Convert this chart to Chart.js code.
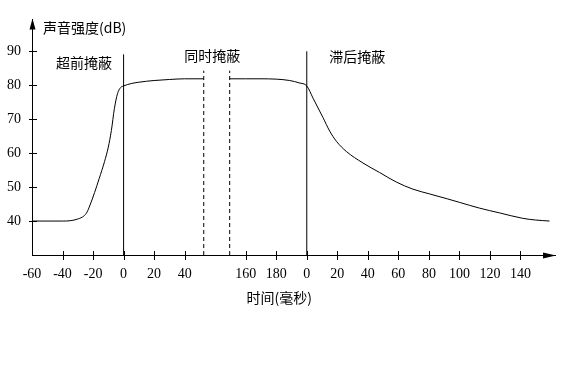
<!DOCTYPE html>
<html>
<head>
<meta charset="utf-8">
<script src="https://cdn.jsdelivr.net/npm/chart.js@4/dist/chart.umd.min.js"></script>
<style>
  html, body { margin: 0; padding: 0; background: #fff; }
  canvas { display: block; }
</style>
</head>
<body>
<canvas id="c" width="569" height="384"></canvas>
<script>
// ---- data ----
const xTickPositions = [-60, -40, -20, 0, 20, 40, 80, 100, 120, 140, 160, 180, 200, 220, 240, 260];
const xTickLabels = ['-60', '-40', '-20', '0', '20', '40', '160', '180', '0', '20', '40', '60', '80', '100', '120', '140'];
const yTickValues = [40, 50, 60, 70, 80, 90];

const curveX = [-60, -40, -35, -30, -26, -24, -22, -19, -16, -12.5, -10, -8, -6, -4, -2, 0, 5, 10, 20, 30, 40, 52.5,
                61,
                69.5, 80, 90, 100, 108.8, 115, 120, 124.1, 130.6, 135, 139.4, 145.9, 156.8, 167.7, 178.6, 189.5, 200.4, 212.4, 220.1, 233.2, 246.3, 261.5, 270, 279];
const curveY = [40, 40, 40.1, 40.6, 41.5, 42.6, 44.7, 48.4, 52.5, 57.5, 61.8, 66.7, 73.2, 77.5, 79.3, 79.8, 80.5, 80.9, 81.4, 81.7, 81.9, 81.9,
                null,
                81.9, 81.9, 81.9, 81.8, 81.4, 80.7, 79.8, 76.2, 70.5, 66.5, 63.5, 60.5, 57.1, 54.3, 51.5, 49.4, 48.0, 46.5, 45.5, 43.8, 42.4, 40.8, 40.3, 40.0];

const solidLineX = [0, 120];
const solidLineTop = [89.1, 90];
const dashedLineX = [52.5, 69.5];
const dashedLineTop = [84.3, 84.3];

const regionLabels = ['超前掩蔽', '同时掩蔽', '滞后掩蔽'];
const regionLabelX = [-26, 58, 153];
const regionLabelY = [86.6, 88.6, 88.4];

const yTitle = '声音强度(dB)';
const xTitle = '时间(毫秒)';

// ---- build ----
const curvePoints = curveX.map((x, i) => ({ x: x, y: curveY[i] }));
const datasets = [{
  data: curvePoints,
  borderColor: '#000',
  borderWidth: 1,
  pointRadius: 0,
  cubicInterpolationMode: 'monotone',
  spanGaps: false,
  fill: false
}];
solidLineX.forEach((x, i) => datasets.push({
  data: [{ x: x, y: 30 }, { x: x, y: solidLineTop[i] }],
  borderColor: '#000', borderWidth: 1, pointRadius: 0, fill: false
}));
dashedLineX.forEach((x, i) => datasets.push({
  data: [{ x: x, y: 30 }, { x: x, y: dashedLineTop[i] }],
  borderColor: '#000', borderWidth: 1, borderDash: [4, 3], pointRadius: 0, fill: false
}));

const cjkFont = '"Noto Sans CJK SC", sans-serif';
const numFont = '"Liberation Serif", serif';

const decor = {
  id: 'decor',
  afterDraw(chart) {
    const ctx = chart.ctx;
    const xs = chart.scales.x, ys = chart.scales.y;
    const a = chart.chartArea;
    ctx.save();
    ctx.strokeStyle = '#000';
    ctx.fillStyle = '#000';
    ctx.lineWidth = 1;
    // tick marks crossing axes
    ctx.beginPath();
    yTickValues.forEach(v => {
      const y = Math.round(ys.getPixelForValue(v)) + 0.5;
      ctx.moveTo(a.left - 3, y); ctx.lineTo(a.left + 5, y);
    });
    xTickPositions.forEach(p => {
      if (p === xs.min) return;
      const x = Math.round(xs.getPixelForValue(p)) + 0.5;
      ctx.moveTo(x, a.bottom - 4); ctx.lineTo(x, a.bottom + 5);
    });
    ctx.stroke();
    // arrows
    ctx.beginPath();
    ctx.moveTo(a.left + 0.5, a.top - 1);
    ctx.lineTo(a.left - 2.5, a.top + 10);
    ctx.lineTo(a.left + 3.5, a.top + 10);
    ctx.closePath();
    ctx.fill();
    ctx.beginPath();
    ctx.moveTo(a.right + 1, a.bottom + 0.5);
    ctx.lineTo(a.right - 12, a.bottom - 2.5);
    ctx.lineTo(a.right - 12, a.bottom + 3.5);
    ctx.closePath();
    ctx.fill();
    // texts
    ctx.font = '14px ' + cjkFont;
    ctx.textBaseline = 'middle';
    ctx.textAlign = 'left';
    ctx.fillText(yTitle, a.left + 11, a.top + 8);
    ctx.textAlign = 'center';
    regionLabels.forEach((t, i) => {
      ctx.fillText(t, xs.getPixelForValue(regionLabelX[i]), ys.getPixelForValue(regionLabelY[i]));
    });
    ctx.fillText(xTitle, xs.getPixelForValue(102), a.bottom + 43);
    ctx.restore();
  }
};

new Chart(document.getElementById('c'), {
  type: 'line',
  data: { datasets: datasets },
  plugins: [decor],
  options: {
    responsive: false,
    animation: false,
    devicePixelRatio: 1,
    layout: { padding: { top: 12, right: 14, left: 0, bottom: 0 } },
    plugins: { legend: { display: false }, tooltip: { enabled: false } },
    scales: {
      x: {
        type: 'linear',
        min: -60,
        max: 282.6,
        afterFit(s) { s.height = 129; },
        afterBuildTicks(s) { s.ticks = xTickPositions.map(v => ({ value: v })); },
        grid: { display: false, drawTicks: false },
        border: { display: true, color: '#000', width: 1 },
        ticks: {
          autoSkip: false,
          maxRotation: 0,
          padding: 11,
          color: '#000',
          font: { family: numFont, size: 14 },
          callback(v) {
            const i = xTickPositions.indexOf(v);
            return i >= 0 ? xTickLabels[i] : '';
          }
        }
      },
      y: {
        type: 'linear',
        min: 30,
        max: 99.4,
        afterFit(s) { s.width = 32; },
        afterBuildTicks(s) { s.ticks = yTickValues.map(v => ({ value: v })); },
        grid: { display: false, drawTicks: false },
        border: { display: true, color: '#000', width: 1 },
        ticks: {
          padding: 11,
          color: '#000',
          font: { family: numFont, size: 14 }
        }
      }
    }
  }
});
</script>
</body>
</html>
